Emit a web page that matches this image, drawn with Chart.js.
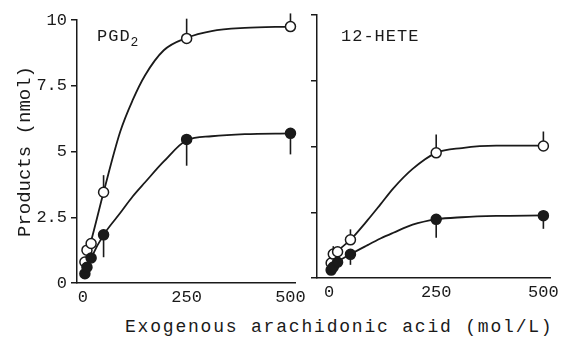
<!DOCTYPE html>
<html>
<head>
<meta charset="utf-8">
<script src="https://cdn.jsdelivr.net/npm/chart.js@4.4.0/dist/chart.umd.min.js"></script>
<style>
  body { margin: 0; background: #fff; }
  #wrap { position: relative; width: 563px; height: 340px; overflow: hidden; font-family: "Liberation Mono", monospace; color: #1a1a1a; }
  .panel { position: absolute; }
  .lbl { position: absolute; font-size: 17px; letter-spacing: 1px; white-space: nowrap; line-height: 20px; }
  .lbl sub { font-size: 13px; vertical-align: -5px; }
</style>
</head>
<body>
<div id="wrap">
  <div class="panel" style="left:0;top:0;width:310px;height:310px"><canvas id="pgd"></canvas></div>
  <div class="panel" style="left:240px;top:-5px;width:323px;height:310px"><canvas id="hete"></canvas></div>
  <div class="lbl" style="left:97px;top:27px">PGD<sub>2</sub></div>
  <div class="lbl" style="left:341px;top:27px">12-HETE</div>
  <div class="lbl" style="left:125px;top:317px;font-size:18px;letter-spacing:1.8px">Exogenous arachidonic acid (mol/L)</div>
</div>
<script>
// arachidonic acid added (x) for the measured points
var doses = [5, 10, 20, 50, 250, 500];
var xTicks = [0, 250, 500];
var yTicks = [0, 2.5, 5, 7.5, 10];
var yTickLabels = ['0', '2.5', '5', '7.5', '10'];

// PGD2 panel, markers
var pgdOpen = [0.8, 1.25, 1.5, 3.45, 9.3, 9.75];
var pgdOpenErr = [0, 0, 0.2, 0.65, 0.75, 0.5];
var pgdFilled = [0.35, 0.6, 0.95, 1.83, 5.46, 5.69];
var pgdFilledErr = [0, 0, 0, 0.85, 1.0, 0.8];

// 12-HETE panel, markers
var heteOpen = [0.57, 0.91, 1.0, 1.45, 4.76, 5.02];
var heteOpenErr = [0, 0.3, 0, 0.4, 0.7, 0.55];
var heteFilled = [0.3, 0.42, 0.6, 0.9, 2.23, 2.37];
var heteFilledErr = [0, 0, 0, 0.4, 0.7, 0.5];

// fitted curves
var curveX = [5, 20, 50, 90, 120, 150, 195, 250, 310, 390, 500];
var pgdOpenCurve = [0.8, 1.6, 3.45, 5.75, 6.95, 7.9, 8.85, 9.32, 9.58, 9.7, 9.75];
var pgdFilledCurve = [0.35, 0.95, 1.83, 2.66, 3.29, 3.83, 4.62, 5.43, 5.58, 5.66, 5.69];
var heteOpenCurve = [0.57, 1.0, 1.45, 2.2, 2.8, 3.41, 4.15, 4.76, 4.94, 5.03, 5.03];
var heteFilledCurve = [0.3, 0.6, 0.9, 1.25, 1.5, 1.72, 2.03, 2.23, 2.31, 2.36, 2.38];

var ink = '#1a1a1a';

function pts(xs, vals) {
    return xs.map(function(d, i) { return {x: d, y: vals[i]}; });
}

// vertical one-sided error bars, drawn from the marker edge
var errorBars = {
    id: 'errorBars',
    afterDatasetsDraw: function(chart) {
        var ctx = chart.ctx;
        var yScale = chart.scales.y;
        chart.data.datasets.forEach(function(ds, i) {
            if (!ds.errors) return;
            var meta = chart.getDatasetMeta(i);
            ctx.save();
            ctx.strokeStyle = ink;
            ctx.lineWidth = 1.6;
            meta.data.forEach(function(pt, j) {
                var e = ds.errors[j];
                if (!e) return;
                var end = yScale.getPixelForValue(ds.data[j].y + ds.errDir * e);
                ctx.beginPath();
                ctx.moveTo(pt.x, pt.y - ds.errDir * ds.pointRadius);
                ctx.lineTo(pt.x, end);
                ctx.stroke();
            });
            ctx.restore();
        });
    }
};

function curve(vals) {
    return {
        data: pts(curveX, vals),
        borderColor: ink,
        borderWidth: 1.8,
        cubicInterpolationMode: 'monotone',
        pointRadius: 0,
        pointHoverRadius: 0,
        clip: false,
        order: 2
    };
}

function markers(vals, errs, dir, open) {
    return {
        data: pts(doses, vals),
        errors: errs,
        errDir: dir,
        showLine: false,
        pointRadius: 5,
        pointHoverRadius: 5,
        pointBorderWidth: 1.5,
        pointBorderColor: ink,
        pointBackgroundColor: open ? '#fff' : ink,
        clip: false,
        order: 1
    };
}

function makeChart(id, curves, marks, xMin, xMax, showY) {
    return new Chart(document.getElementById(id), {
        type: 'line',
        data: { datasets: curves.concat(marks) },
        options: {
            responsive: true,
            maintainAspectRatio: false,
            animation: false,
            events: [],
            layout: { padding: { left: showY ? 10 : 0, top: 20, right: 10, bottom: 0 } },
            plugins: { legend: { display: false }, tooltip: { enabled: false } },
            scales: {
                x: {
                    type: 'linear',
                    min: xMin,
                    max: xMax,
                    afterBuildTicks: function(scale) {
                        scale.ticks = xTicks.map(function(v) { return {value: v}; });
                    },
                    afterFit: function(scale) { scale.height = 27; },
                    grid: { drawOnChartArea: false, drawTicks: false },
                    border: { color: ink, width: 1.5 },
                    ticks: {
                        color: ink,
                        padding: 4,
                        maxRotation: 0,
                        font: { family: 'Liberation Mono', size: 17 }
                    }
                },
                y: {
                    min: 0,
                    max: 10,
                    afterBuildTicks: function(scale) {
                        scale.ticks = yTicks.map(function(v) { return {value: v}; });
                    },
                    afterFit: function(scale) { scale.width = showY ? 67 : 77; },
                    grid: { drawOnChartArea: false, tickLength: 6, color: ink, lineWidth: 1.5 },
                    border: { color: ink, width: 1.5 },
                    ticks: {
                        color: ink,
                        padding: 4,
                        font: { family: 'Liberation Mono', size: 17 },
                        callback: function(v, i) { return showY ? yTickLabels[i] : ''; }
                    },
                    title: {
                        display: showY,
                        text: 'Products (nmol)',
                        color: ink,
                        font: { family: 'Liberation Mono', size: 19 }
                    }
                }
            }
        },
        plugins: [errorBars]
    });
}

makeChart('pgd',
    [curve(pgdFilledCurve), curve(pgdOpenCurve)],
    [markers(pgdFilled, pgdFilledErr, -1, false), markers(pgdOpen, pgdOpenErr, 1, true)],
    -14, 512, true);
makeChart('hete',
    [curve(heteFilledCurve), curve(heteOpenCurve)],
    [markers(heteFilled, heteFilledErr, -1, false), markers(heteOpen, heteOpenErr, 1, true)],
    -28, 517, false);
</script>
</body>
</html>
